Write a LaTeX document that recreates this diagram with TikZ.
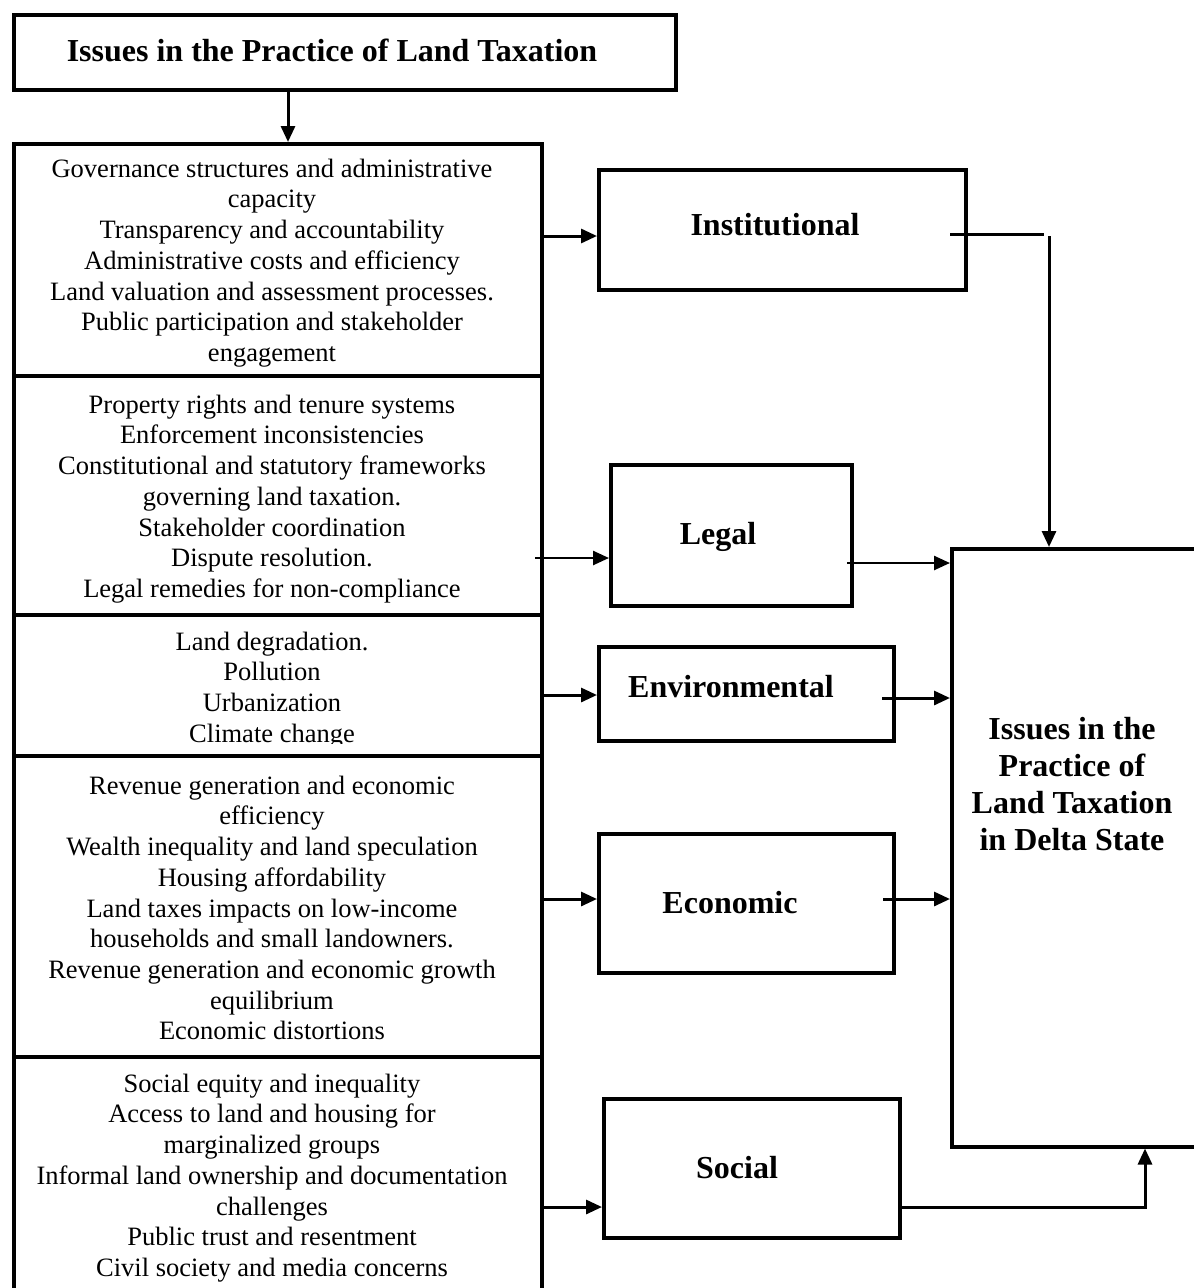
\documentclass[tikz,border=0pt]{standalone}
\usepackage{fontspec}
\setmainfont{Liberation Serif}
\usetikzlibrary{arrows.meta,calc}
\begin{document}
\begin{tikzpicture}[x=1pt,y=-1pt,
  box/.style={draw,line width=3.5pt,rectangle,inner sep=0pt,anchor=north west},
  reg/.style={font=\fontsize{26.5}{30.7}\selectfont,align=center,inner sep=0pt},
  bld/.style={font=\fontsize{32}{37}\selectfont\bfseries,align=center,inner sep=0pt},
  ln/.style={line width=3pt},
  arr/.style={line width=3pt,-{Triangle[length=16pt,width=14pt]}}]
\path[use as bounding box,fill=white] (0,0) rectangle (1194,1288);

% boxes
\node[box,minimum width=662pt,minimum height=75pt] (title) at (12,13) {};
\node[bld] (titleT) at (332,50) {Issues in the Practice of Land Taxation};

\node[box,minimum width=528pt,minimum height=232pt] (sec1) at (12,142) {};
\node[box,minimum width=528pt,minimum height=239pt] (sec2) at (12,374) {};
\node[box,minimum width=528pt,minimum height=141pt] (sec3) at (12,613) {};
\node[box,minimum width=528pt,minimum height=301pt] (sec4) at (12,754) {};
\node[box,minimum width=528pt,minimum height=260pt] (sec5) at (12,1055) {};

\node[reg] (t1) at (272,263) {Governance structures and administrative\\capacity\\Transparency and accountability\\Administrative costs and efficiency\\Land valuation and assessment processes.\\Public participation and stakeholder\\engagement};
\node[reg] (t2) at (272,499) {Property rights and tenure systems\\Enforcement inconsistencies\\Constitutional and statutory frameworks\\governing land taxation.\\Stakeholder coordination\\Dispute resolution.\\Legal remedies for non-compliance};
\begin{scope}
\clip (14,615) rectangle (538,743);
\node[reg] (t3) at (272,690) {Land degradation.\\Pollution\\Urbanization\\Climate change};
\end{scope}
\node[reg] (t4) at (272,908) {Revenue generation and economic\\efficiency\\Wealth inequality and land speculation\\Housing affordability\\Land taxes impacts on low-income\\households and small landowners.\\Revenue generation and economic growth\\equilibrium\\Economic distortions};
\node[reg] (t5) at (272,1178) {Social equity and inequality\\Access to land and housing for\\marginalized groups\\Informal land ownership and documentation\\challenges\\Public trust and resentment\\Civil society and media concerns};

\node[box,minimum width=367pt,minimum height=120pt] (inst) at (597,168) {};
\node[bld] (instT) at (775,225) {Institutional};
\node[box,minimum width=241pt,minimum height=141pt] (legal) at (609,463) {};
\node[bld] (legalT) at (718,537) {Legal};
\node[box,minimum width=295pt,minimum height=94pt] (env) at (597,645) {};
\node[bld] (envT) at (731,687) {Environmental};
\node[box,minimum width=295pt,minimum height=139pt] (econ) at (597,832) {};
\node[bld] (econT) at (730,903) {Economic};
\node[box,minimum width=296pt,minimum height=139pt] (social) at (602,1097) {};
\node[bld] (socialT) at (737,1168) {Social};

\node[box,minimum width=270pt,minimum height=598pt] (big) at (950,547) {};
\node[bld] (bigT) at (1072,784) {Issues in the\\Practice of\\Land Taxation\\in Delta State};

% connectors
\coordinate (xa) at (288,0);
\coordinate (xb) at (1049,0);
\coordinate (xc) at (1145,0);
\coordinate (y1) at (0,236);
\coordinate (c1) at (950,234);
\coordinate (c2) at (1044,234);
\coordinate (c3) at (1049,236);
\coordinate (y2) at (535,558);
\coordinate (y3) at (847,563);
\coordinate (y4) at (0,695);
\coordinate (y5) at (882,698);
\coordinate (y6) at (0,899);
\coordinate (y7) at (883,899);
\coordinate (y8) at (0,1207);

\draw[arr] (xa |- title.south) -- (xa |- sec1.north);
\draw[arr] (y1 -| sec1.east) -- (y1 -| inst.west);
\draw[ln] (c1) -- (c2);
\draw[arr] (c3) -- (xb |- big.north);
\draw[arr,line width=2.5pt] (y2) -- (y2 -| legal.west);
\draw[arr,line width=2.5pt] (y3) -- (y3 -| big.west);
\draw[arr] (y4 -| sec3.east) -- (y4 -| env.west);
\draw[arr] (y5) -- (y5 -| big.west);
\draw[arr] (y6 -| sec4.east) -- (y6 -| econ.west);
\draw[arr] (y7) -- (y7 -| big.west);
\draw[arr] (y8 -| sec5.east) -- (y8 -| social.west);
\draw[arr] (y8 -| social.east) -| (xc |- big.south);
\end{tikzpicture}
\end{document}
